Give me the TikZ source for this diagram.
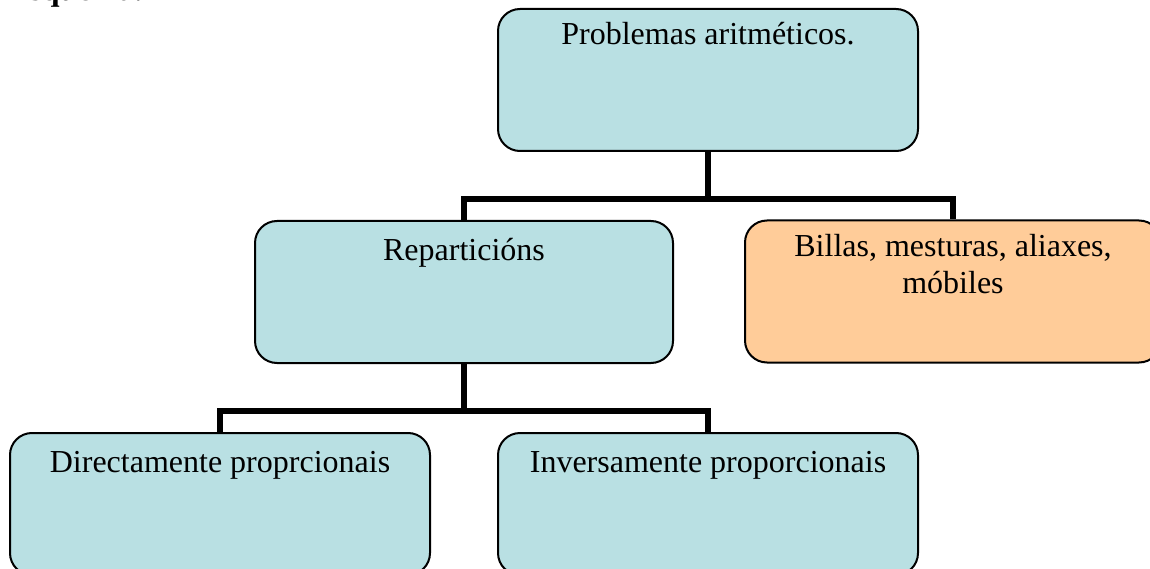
\documentclass[tikz,border=0pt]{standalone}
\usepackage{fontspec}
\setmainfont{Liberation Serif}
\definecolor{boxblue}{RGB}{185,224,227}
\definecolor{boxorange}{RGB}{255,204,153}
\tikzset{
  box/.style={draw=black, line width=2pt, rounded corners=22pt, minimum width=420pt, minimum height=142pt, inner sep=0pt},
  bluebox/.style={box, fill=boxblue},
  orangebox/.style={box, fill=boxorange},
  lbl/.style={anchor=base, inner sep=0pt, font=\fontsize{32}{36}\selectfont},
  conn/.style={draw=black, line width=6pt}
}
\begin{document}
\begin{tikzpicture}[x=1pt,y=-1pt]
\useasboundingbox (0,0) rectangle (1150,569);
\clip (0,0) rectangle (1150,569);
\node[anchor=base west, inner sep=0pt, font=\fontsize{32}{36}\selectfont\bfseries] (title) at (8,1) {Esquema.};
% boxes
\node[bluebox] (top) at (708,80) {};
\node[bluebox, minimum width=418pt] (rep) at (464,292) {};
\node[orangebox, minimum width=416pt] (bil) at (953,291.5) {};
\node[bluebox] (dir) at (220,504) {};
\node[bluebox] (inv) at (708,504) {};
% texts
\node[lbl] (toptxt) at (708,45) {Problemas aritméticos.};
\node[lbl] (reptxt) at (464,260) {Reparticións};
\node[lbl] (biltxt1) at (953,257) {Billas, mesturas, aliaxes,};
\node[lbl] (biltxt2) at (953,293) {móbiles};
\node[lbl] (dirtxt) at (220,472) {Directamente proprcionais};
\node[lbl] (invtxt) at (708,472) {Inversamente proporcionais};
% connectors
\coordinate (j1) at (708,199);
\coordinate (j2) at (464,411);
\draw[conn] (top.south) -- (j1);
\draw[conn] (rep.north) |- (j1) -| (bil.north);
\draw[conn] (rep.south) -- (j2);
\draw[conn] (dir.north) |- (j2) -| (inv.north);
\end{tikzpicture}
\end{document}
